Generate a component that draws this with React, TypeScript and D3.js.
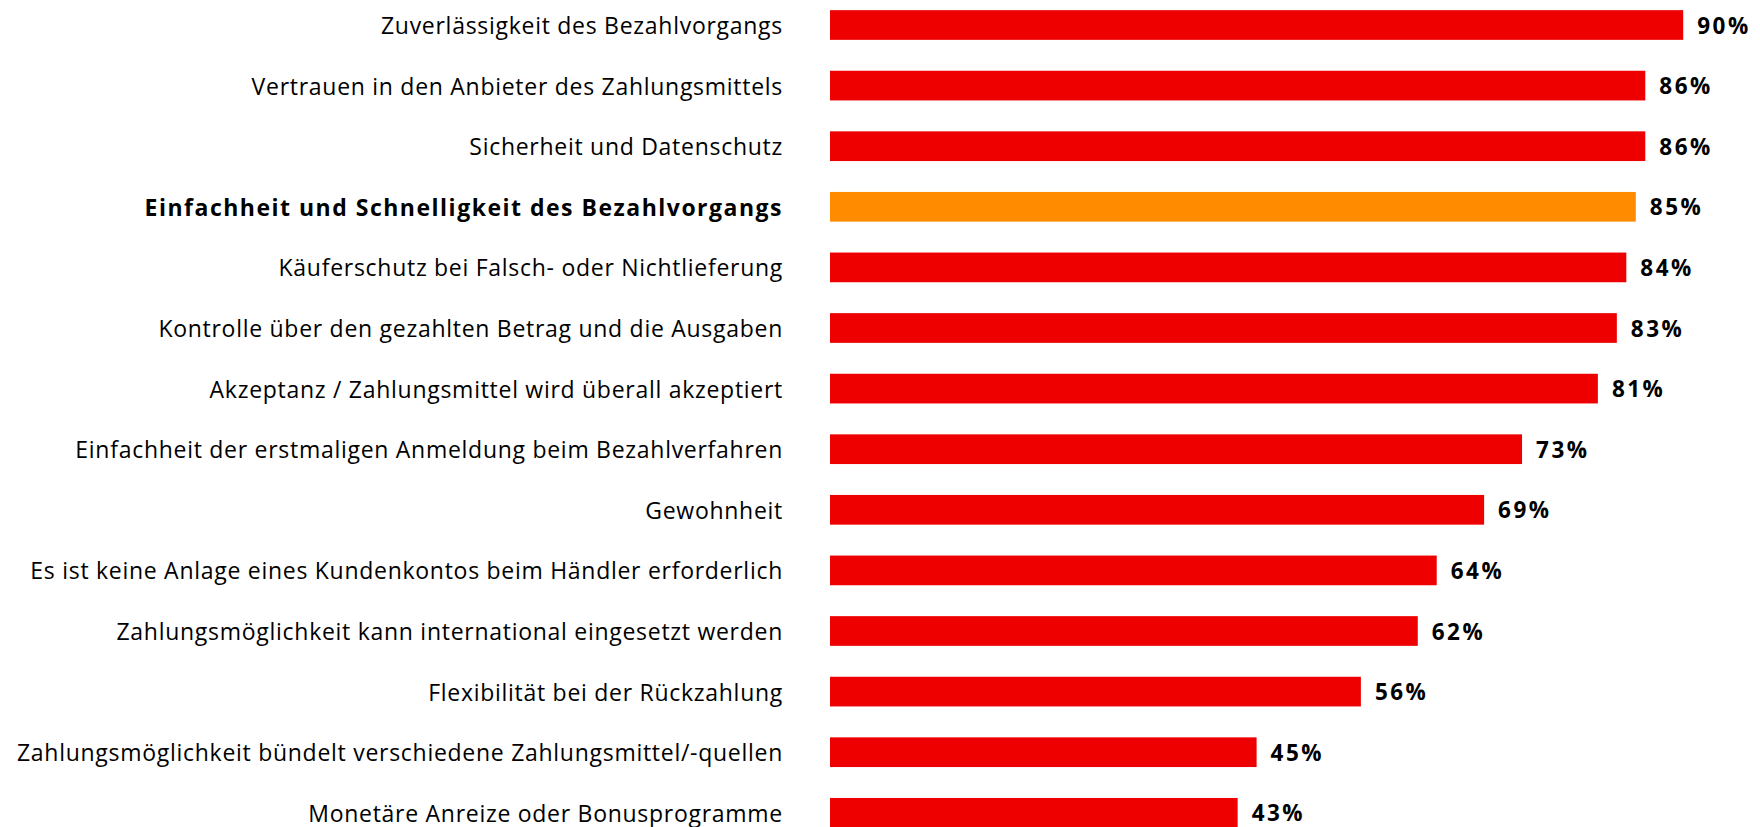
import React from "react";
import * as d3 from "d3";

const categories: string[] = [
  "Zuverlässigkeit des Bezahlvorgangs",
  "Vertrauen in den Anbieter des Zahlungsmittels",
  "Sicherheit und Datenschutz",
  "Einfachheit und Schnelligkeit des Bezahlvorgangs",
  "Käuferschutz bei Falsch- oder Nichtlieferung",
  "Kontrolle über den gezahlten Betrag und die Ausgaben",
  "Akzeptanz / Zahlungsmittel wird überall akzeptiert",
  "Einfachheit der erstmaligen Anmeldung beim Bezahlverfahren",
  "Gewohnheit",
  "Es ist keine Anlage eines Kundenkontos beim Händler erforderlich",
  "Zahlungsmöglichkeit kann international eingesetzt werden",
  "Flexibilität bei der Rückzahlung",
  "Zahlungsmöglichkeit bündelt verschiedene Zahlungsmittel/-quellen",
  "Monetäre Anreize oder Bonusprogramme",
];
const values: number[] = [90, 86, 86, 85, 84, 83, 81, 73, 69, 64, 62, 56, 45, 43];
const highlighted: string[] = ["Einfachheit und Schnelligkeit des Bezahlvorgangs"];

const W = 1760;
const H = 827;
const FONT = "'Open Sans', 'Noto Sans', sans-serif";

export default function App() {
  const x = d3.scaleLinear().domain([0, 100]).range([830, 1778]);
  const y = d3
    .scaleBand<string>()
    .domain(categories)
    .range([-5.3, -5.3 + 60.6 * categories.length])
    .paddingInner(0.51)
    .paddingOuter(0.255);
  const labelX = 783;
  return (
    <svg
      width={W}
      height={H}
      style={{ position: "absolute", left: 0, top: 0, background: "#fff" }}
      fontFamily={FONT}
    >
      {categories.map((c, i) => {
        const hl = highlighted.includes(c);
        const yc = (y(c) as number) + y.bandwidth() / 2;
        return (
          <g key={c}>
            <text
              x={labelX}
              y={yc}
              textAnchor="end"
              dominantBaseline="central"
              fontSize={23}
              fontWeight={hl ? 700 : 400}
              fill="#000"
              letterSpacing={hl ? 1.5 : 0.72}
            >
              {c}
            </text>
            <rect
              x={x(0)}
              y={y(c) as number}
              width={x(values[i]) - x(0)}
              height={y.bandwidth()}
              fill={hl ? "#ff8c00" : "#ee0000"}
            />
            <text
              x={x(values[i]) + 14}
              y={yc}
              dominantBaseline="central"
              fontSize={22.5}
              fontWeight={700}
              fill="#000"
              letterSpacing={2.5}
            >
              {values[i]}%
            </text>
          </g>
        );
      })}
    </svg>
  );
}
